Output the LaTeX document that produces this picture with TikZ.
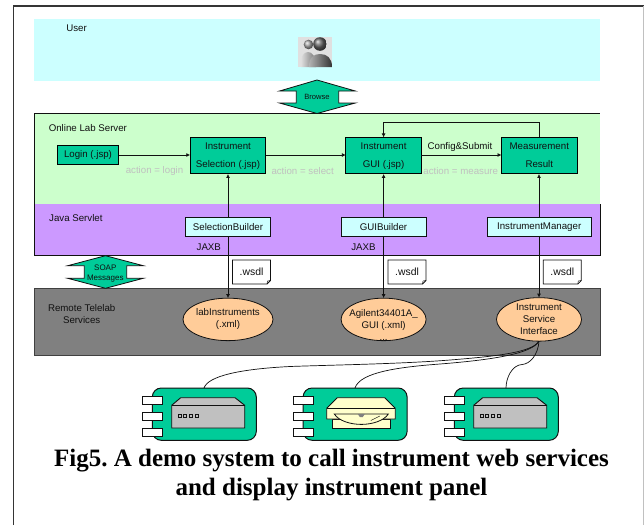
\documentclass[tikz,border=0pt]{standalone}
\usepackage{fontspec}
\setmainfont{Liberation Sans}
\newfontfamily\capfont{Liberation Serif}
\usetikzlibrary{arrows.meta,shapes.geometric}
\definecolor{boxgreen}{HTML}{00CC99}
\definecolor{lightgreen}{HTML}{CCFFCC}
\definecolor{lightcyan}{HTML}{CCFFFF}
\definecolor{lightpurple}{HTML}{CC99FF}
\definecolor{lightorange}{HTML}{FFCC99}
\definecolor{midgray}{HTML}{808080}
\definecolor{lightyellow}{HTML}{FFFFCC}
\definecolor{devgray}{HTML}{C0C0C0}
\definecolor{ink}{HTML}{111111}
\tikzset{
  x=1pt,y=-1pt,
  every node/.style={inner sep=0pt,outer sep=0pt,text=ink},
  lbl/.style={font=\fontsize{9.7}{12}\selectfont,align=center},
  grey label/.style={lbl,text=devgray},
  greenbox/.style={draw=black,line width=1pt,fill=boxgreen,lbl,align=center},
  cyanbox/.style={draw=ink,line width=0.9pt,fill=lightcyan,lbl,minimum width=85pt,minimum height=19pt},
  oval/.style={draw=ink,line width=0.8pt,fill=lightorange,lbl,ellipse,minimum width=85pt,minimum height=42.5pt},
  conn/.style={draw=ink,line width=0.8pt,-{Latex[length=4pt,width=4pt]}},
  both/.style={draw=ink,line width=0.8pt,{Latex[length=4pt,width=4pt]}-{Latex[length=4pt,width=4pt]}},
  wire/.style={draw=ink,line width=0.7pt},
  bigarrow/.style={draw=ink,line width=0.8pt,fill=boxgreen},
  tabbox/.style={draw=ink,line width=0.9pt,fill=white},
}
\newcommand{\wsdlnote}[3]{%
  \path[draw=ink,line width=0.8pt,fill=white] (#1,260)--(#1+38,260)--(#1+38,280.5)--(#1+34.5,284)--(#1,284)--cycle;
  \path[draw=ink,line width=0.5pt] (#1+38,280.5)--(#1+35,281)--(#1+34.5,284);
  \node[font=\fontsize{10.4}{12}\selectfont] (#2) at (#1+19,272) {#3};
}
\newcommand{\device}[2]{%
  \begin{scope}[shift={(#1,0)}]
    \path[draw=ink,line width=1pt,fill=boxgreen,rounded corners=9pt] (152.3,388) rectangle (256.3,440.3);
    \path[tabbox] (142.7,396) rectangle (162.3,404.3);
    \path[tabbox] (142.7,412.2) rectangle (162.3,420.5);
    \path[tabbox] (142.7,428.3) rectangle (162.3,436.6);
    #2
  \end{scope}
}
\newcommand{\graybox}{%
  \path[draw=ink,line width=0.9pt,fill=devgray] (171.7,405.3)--(180.7,397.7)--(235,397.7)--(244.7,405.3)--(244.7,428)--(171.7,428)--cycle;
  \path[draw=ink,line width=0.9pt] (171.7,405.3)--(244.7,405.3);
  \foreach \sx in {180,185.3,190.6,196.6}{\path[draw=ink,line width=0.8pt,fill=devgray] (\sx-1.5,414.3) rectangle (\sx+1.5,417.7);}
}
\begin{document}
\begin{tikzpicture}
\useasboundingbox (0,0) rectangle (644,525);
% page frame
\path[draw=ink!85,line width=1.8pt] (13.5,525)--(13.5,6.3)--(644,6.3);
\path[draw=devgray,line width=0.8pt] (643.4,6.3)--(643.4,525);
% bands
\path[fill=lightcyan] (34,19) rectangle (600,81);
\path[fill=lightgreen] (34.5,113.5) rectangle (600,204);
\path[draw=ink,line width=0.8pt] (34.5,204)--(34.5,113.5)--(600,113.5);
\path[draw=ink,line width=0.8pt,fill=lightpurple] (34.5,204)--(34.5,255.7)--(600,255.7)--(600,204);
\path[fill=lightpurple] (35,204) rectangle (599.6,255);
\path[draw=black!75,line width=0.9pt,fill=midgray] (34.5,288.5) rectangle (600,355);
% band labels
\node[lbl,anchor=west] (userlabel) at (66.3,28.6) {User};
\node[lbl,anchor=west] (onlinelabel) at (48.8,127.8) {Online Lab Server};
\node[lbl,anchor=west] (javalabel) at (49.2,217.7) {Java Servlet};
\node[lbl] (remotelabel) at (81.7,313.6) {Remote Telelab\\[0pt]Services};
% user icon
\begin{scope}
  \clip (298,37) rectangle (332,67);
  \path[fill=black!12] (298,37) rectangle (332,67);
  \path[left color=black!10,right color=black!55] (301,67) .. controls (300,56) and (304,52) .. (308,52) .. controls (312,52) and (316,56) .. (316,67) -- cycle;
  \shade[ball color=black!35] (308.5,44.5) circle (4.8);
  \path[left color=black!30,right color=black!80] (309,67) .. controls (309,57) and (314,54) .. (320,54) .. controls (327,54) and (332,58) .. (332,67) -- cycle;
  \shade[ball color=black!60] (320,44) circle (6.8);
\end{scope}
% big arrows
\path[bigarrow] (317,80)--(355.3,91)--(338.7,91)--(338.7,103)--(355.3,103)--(317,113.5)--(279.5,103)--(296.3,103)--(296.3,91)--(279.5,91)--cycle;
\node[font=\fontsize{7.6}{9}\selectfont] (browse) at (317,97) {Browse};
\path[bigarrow] (105.5,255.7)--(143.3,265.7)--(126.7,265.7)--(126.7,278.3)--(143.3,278.3)--(105.5,288.3)--(67.7,278.3)--(84.3,278.3)--(84.3,265.7)--(67.7,265.7)--cycle;
\node[align=center,font=\fontsize{8}{10.2}\selectfont] (soap) at (105.3,273.2) {SOAP\\[0pt]Messages};
% boxes
\node[greenbox,minimum width=61pt,minimum height=19pt] (login) at (88,155) {Login (.jsp)};
\node[greenbox,minimum width=75.5pt,minimum height=36.5pt,font=\fontsize{9.7}{18}\selectfont] (sel) at (228,155.7) {Instrument\\Selection (.jsp)};
\node[greenbox,minimum width=75.5pt,minimum height=36.5pt,font=\fontsize{9.7}{18}\selectfont] (gui) at (383.6,155.7) {Instrument\\GUI (.jsp)};
\node[greenbox,minimum width=75.5pt,minimum height=36.5pt,font=\fontsize{9.7}{18}\selectfont] (meas) at (539.3,155.7) {Measurement\\Result};
% ellipses
\node[oval] (labi) at (228,319.4) {labInstruments\\(.xml)};
\node[oval,align=center] (agi) at (383.6,319.4) {};
\node[lbl] (agitext) at (383.6,325.2) {Agilent34401A\_\\GUI (.xml)\\...};
\node[oval] (isi) at (539,319.4) {Instrument\\Service\\Interface};
% connectors (under the builder boxes)
\path[both] (sel.south) -- (labi.north);
\path[both] (gui.south) -- (agi.north);
\path[both] (meas.south -| isi.north) -- (isi.north);
% builder boxes
\node[cyanbox] (sb) at (228,227) {SelectionBuilder};
\node[cyanbox] (gb) at (383.5,227) {GUIBuilder};
\node[cyanbox,minimum width=103.7pt] (im) at (539.2,227) {InstrumentManager};
% horizontal connectors
\path[conn] (login.east) -- (login.east -| sel.west);
\path[conn] (sel.east |- login.east) -- (login.east -| gui.west);
\path[conn] (gui.east |- login.east) -- (login.east -| meas.west);
\coordinate (loopa) at (539.3,122);
\coordinate (loopb) at (383.6,122);
\path[conn] (meas.north) -- (loopa) -- (loopb) -- (gui.north);
% edge labels
\node[grey label] (al) at (154.5,171) {action = login};
\node[grey label,anchor=west] (as) at (271.5,171) {action = select};
\node[grey label] (am) at (460.7,171) {action = measure};
\node[lbl] (cs) at (460,146.6) {Config\&Submit};
\node[lbl] (jx1) at (208.8,246.8) {JAXB};
\node[lbl] (jx2) at (363.5,246.8) {JAXB};
% wsdl notes
\wsdlnote{232.5}{w1}{.wsdl}
\wsdlnote{388}{w2}{.wsdl}
\wsdlnote{543.3}{w3}{.wsdl}
% devices
\device{0}{\graybox}
\device{150.8}{%
  \path[draw=ink,line width=0.8pt,fill=lightyellow] (181.2,419)--(181.2,428)--(239.9,428)--(239.9,419)--cycle;
  \path[draw=ink,line width=0.8pt,fill=lightyellow] (175.9,408.3)--(186.5,397.7)--(233.9,397.7)--(244.5,408.3)--(244.5,419)--(175.9,419)--cycle;
  \path[draw=ink,line width=0.8pt] (175.9,408.3)--(244.5,408.3);
  \path[draw=ink,line width=0.8pt,fill=lightyellow] (183.5,414) .. controls (188,421) and (200,424.4) .. (210.5,424.4) .. controls (221,424.4) and (233,421) .. (237.5,414) -- cycle;
  \path[fill=black!50] (207,414) -- (214,414) -- (212,417) -- (209,417) -- cycle;
  \path[draw=ink,line width=0.4pt] (220,420.5)--(229,416);
}
\device{302}{\graybox}
% wires
\coordinate (d1top) at (204,388);
\coordinate (d2top) at (355,388);
\coordinate (d3top) at (506,388);
\path[wire] (isi.south) .. controls (532,352) and (500,356) .. (450,360) .. controls (400,364) and (330,365) .. (290,366.5) .. controls (240,369) and (208,376) .. (d1top);
\path[wire] (isi.south) .. controls (532,354) and (490,360) .. (440,364) .. controls (400,367) and (360,372) .. (d2top);
\path[wire] (isi.south) .. controls (538,355) and (530,364) .. (522,364.5) .. controls (512,365) and (506,378) .. (d3top);
% caption
\node[anchor=base,font=\capfont\bfseries\fontsize{25}{29}\selectfont\frenchspacing,text=black] (cap1) at (331.5,466) {Fig5. A demo system to call instrument web services};
\node[anchor=base,font=\capfont\bfseries\fontsize{25}{29}\selectfont\frenchspacing,text=black] (cap2) at (331.5,495) {and display instrument panel};
\end{tikzpicture}
\end{document}
